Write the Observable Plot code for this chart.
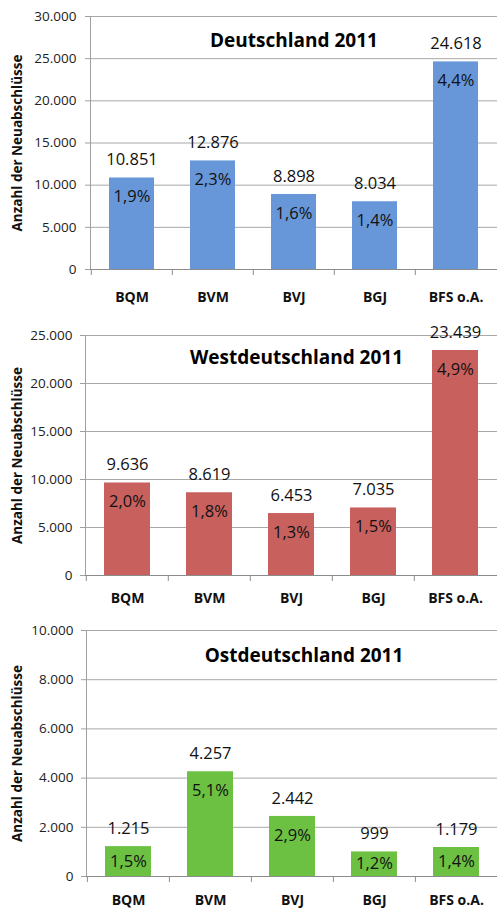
<!DOCTYPE html>
<html>
<head>
<meta charset="utf-8">
<script src="https://cdn.jsdelivr.net/npm/d3@7"></script>
<script src="https://cdn.jsdelivr.net/npm/@observablehq/plot@0.6"></script>
<style>
  html, body { margin: 0; padding: 0; background: #fff; }
  #chart { width: 497px; }
  #chart svg { display: block; overflow: visible; }
</style>
</head>
<body>
<div id="chart"></div>
<script>
// ---- data ----
const categories = ["BQM", "BVM", "BVJ", "BGJ", "BFS o.A."];

const titleDE = "Deutschland 2011";
const valuesDE = [10851, 12876, 8898, 8034, 24618];
const percentDE = [1.9, 2.3, 1.6, 1.4, 4.4];
const ticksDE = [0, 5000, 10000, 15000, 20000, 25000, 30000];

const titleWest = "Westdeutschland 2011";
const valuesWest = [9636, 8619, 6453, 7035, 23439];
const percentWest = [2.0, 1.8, 1.3, 1.5, 4.9];
const ticksWest = [0, 5000, 10000, 15000, 20000, 25000];

const titleOst = "Ostdeutschland 2011";
const valuesOst = [1215, 4257, 2442, 999, 1179];
const percentOst = [1.5, 5.1, 2.9, 1.2, 1.4];
const ticksOst = [0, 2000, 4000, 6000, 8000, 10000];

const yLabel = "Anzahl der Neuabschlüsse";

// ---- formatting ----
const de = d3.formatLocale({decimal: ",", thousands: ".", grouping: [3], currency: ["", " €"]});
const fmtInt = de.format(",d");
const fmtPct = (p) => de.format(".1f")(p) + "%";

const FONT = "'Open Sans', 'DejaVu Sans', sans-serif";
const W = 497;

function panel({title, values, percents, ticks, fill, height, mt, mb, ml, tickPad, xPad, titleDx, titleDy}) {
  const data = categories.map((c, i) => ({cat: c, value: values[i], pct: percents[i]}));
  const ymax = ticks[ticks.length - 1];
  const plotH = height - mt - mb;
  const step = (W - ml) / categories.length;
  const unitPx = ymax / plotH;
  return Plot.plot({
    width: W,
    height,
    marginTop: mt,
    marginBottom: mb,
    marginLeft: ml,
    marginRight: 0,
    style: {fontFamily: FONT, background: "#fff", color: "#222"},
    x: {domain: categories, paddingInner: 0.44, paddingOuter: 0.22},
    y: {domain: [0, ymax]},
    marks: [
      Plot.gridY(ticks, {stroke: "#a8a8a8", strokeOpacity: 1}),
      Plot.frame({anchor: "left", stroke: "#a0a0a0"}),
      Plot.barY(data, {x: "cat", y: "value", fill}),
      Plot.ruleY([0], {stroke: "#8c8c8c"}),
      Plot.ruleX(categories, {x: (d) => d, dx: -step / 2, y1: 0, y2: 0, insetBottom: -6, stroke: "#8c8c8c"}),
      Plot.axisY({ticks, tickSize: 5, tickPadding: tickPad, tickFormat: fmtInt, label: null,
        fontSize: 13.5, stroke: "#a0a0a0", fill: "#222"}),
      Plot.axisX({tickSize: 0, tickPadding: xPad, label: null, fontSize: 14, fontWeight: "bold", fill: "#111"}),
      Plot.text([yLabel], {frameAnchor: "left", textAnchor: "middle", dx: -(ml - 17), rotate: -90, fontSize: 13.5, fontWeight: "bold", fill: "#111"}),
      Plot.text([title], {frameAnchor: "top", lineAnchor: "middle", dx: titleDx, dy: titleDy, fontSize: 19, fontWeight: "bold", fill: "#000"}),
      Plot.text(data, {x: "cat", y: "value", text: (d) => fmtInt(d.value), dy: -18, fontSize: 16.5, fill: "#111"}),
      Plot.text(data, {x: "cat", y: (d) => Math.max(d.value - 19 * unitPx, d.value / 2), text: (d) => fmtPct(d.pct), fontSize: 16.5, fill: "#111"})
    ]
  });
}

const chart = document.getElementById("chart");
chart.append(panel({title: titleDE, values: valuesDE, percents: percentDE, ticks: ticksDE, fill: "#6797d9",
  height: 305, mt: 16, mb: 36, ml: 90, tickPad: 9, xPad: 23, titleDx: 0, titleDy: 24}));
chart.append(panel({title: titleWest, values: valuesWest, percents: percentWest, ticks: ticksWest, fill: "#c8605e",
  height: 300, mt: 30, mb: 30, ml: 85, tickPad: 8, xPad: 18, titleDx: 5, titleDy: 22}));
chart.append(panel({title: titleOst, values: valuesOst, percents: percentOst, ticks: ticksOst, fill: "#6cc042",
  height: 303, mt: 25, mb: 32, ml: 86, tickPad: 8, xPad: 19, titleDx: 12, titleDy: 25}));
</script>
</body>
</html>
